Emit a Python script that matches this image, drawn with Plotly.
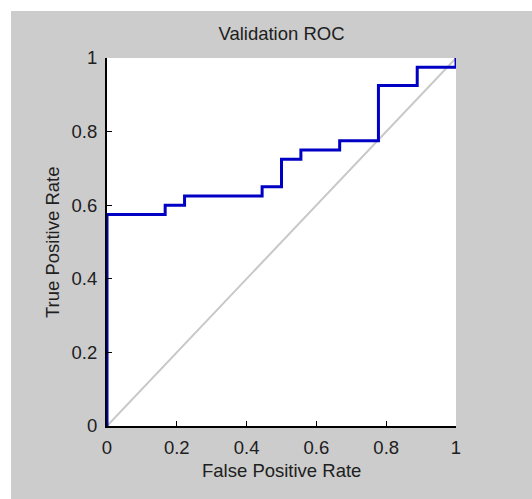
import plotly.graph_objects as go

# ROC data
fpr = [0, 0, 3/18, 4/18, 8/18, 9/18, 10/18, 12/18, 14/18, 16/18, 1]
tpr = [0, 0.575, 0.600, 0.625, 0.650, 0.725, 0.750, 0.775, 0.925, 0.975, 1.0]
diag_x = [0, 1]
diag_y = [0, 1]
tick_vals = [0, 0.2, 0.4, 0.6, 0.8, 1]
tick_text = ["0", "0.2", "0.4", "0.6", "0.8", "1"]

W, H = 532, 499
L, R, T, B = 107, 76, 58, 73
PW, PH = W - L - R, H - T - B
BORDER = 11

FONT = "Liberation Sans, Arial, sans-serif"
FS = 18.5
TXT = "#202020"

fig = go.Figure()
fig.add_trace(go.Scatter(x=diag_x, y=diag_y, mode="lines",
                         line=dict(color="#c8c8c8", width=2), hoverinfo="skip"))
fig.add_trace(go.Scatter(x=fpr, y=tpr, mode="lines", line_shape="hv",
                         line=dict(color="#0000c4", width=3)))

def px_x(p):
    return (p - L) / PW

def px_y(p):
    return (H - B - p) / PH

# white border strips (top and left) of the screenshot
fig.add_shape(type="rect", xref="paper", yref="paper",
              x0=px_x(0), x1=px_x(W), y0=px_y(BORDER), y1=px_y(0),
              fillcolor="white", line_width=0, layer="below")
fig.add_shape(type="rect", xref="paper", yref="paper",
              x0=px_x(0), x1=px_x(BORDER), y0=px_y(H), y1=px_y(0),
              fillcolor="white", line_width=0, layer="below")

fig.add_annotation(text="False Positive Rate", xref="paper", yref="paper",
                   x=0.5, y=px_y(470), xanchor="center", yanchor="middle",
                   showarrow=False, font=dict(family=FONT, size=FS, color=TXT))
fig.add_annotation(text="True Positive Rate", xref="paper", yref="paper",
                   x=px_x(52), y=0.5, xanchor="center", yanchor="middle",
                   textangle=-90, showarrow=False,
                   font=dict(family=FONT, size=FS, color=TXT))

axis_common = dict(range=[0, 1], tickvals=tick_vals, ticktext=tick_text,
                   ticks="inside", ticklen=5, tickwidth=1, tickcolor="black",
                   showline=True, linecolor="black", linewidth=2,
                   showgrid=False, zeroline=False, mirror=False,
                   tickfont=dict(family=FONT, size=FS, color=TXT),
                   fixedrange=True)

fig.update_layout(
    width=W, height=H,
    margin=dict(l=L, r=R, t=T, b=B, pad=0),
    paper_bgcolor="#cccccc", plot_bgcolor="white",
    showlegend=False,
    title=dict(text="Validation ROC", x=(L + PW / 2) / W, xanchor="center",
               y=1 - 33.5 / H, yanchor="middle", yref="container",
               font=dict(family=FONT, size=FS, color=TXT)),
    xaxis=dict(**axis_common, ticklabelstandoff=4),
    yaxis=dict(**axis_common, ticklabelstandoff=4),
)

fig.write_html("out.html")
